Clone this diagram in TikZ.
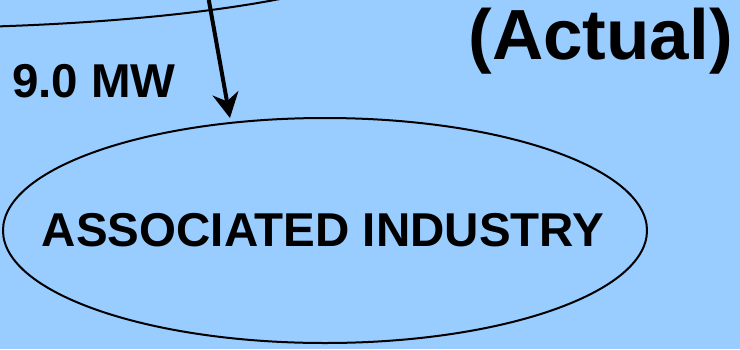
\documentclass[tikz,border=0pt]{standalone}
\usepackage{fontspec}
\setmainfont{Liberation Sans}
\usetikzlibrary{shapes.geometric,arrows.meta}
\definecolor{skyblue}{RGB}{153,204,255}
\begin{document}
\begin{tikzpicture}[x=1pt, y=-1pt,
                    main node/.style={ellipse,draw,line width=2pt,inner sep=0pt},
                    flow/.style={line width=4pt,-{Stealth[length=25pt,width=26pt,inset=8pt]}},
                    tag/.style={inner sep=0pt,font=\fontsize{47.5}{50}\selectfont\bfseries}]

		  \useasboundingbox (0,0) rectangle (740,349);
		  \fill[skyblue] (0,0) rectangle (740,349);
		  \clip (0,0) rectangle (740,349);

		  \node[main node, minimum width=1000pt, minimum height=166pt] (plant) at (-100,-55) {};
		  \node[main node, tag, minimum width=644pt, minimum height=225pt] (industry) at (325,230.5)
		    {\makebox[0pt]{\hspace{-4pt}ASSOCIATED INDUSTRY}};
		  \coordinate (feed) at (207,-10);

		  \node[tag, anchor=base west] (power) at (12,97) {9.0 MW};
		  \node[tag, anchor=base east, font=\fontsize{71}{74}\selectfont\bfseries] (actual) at (733,59) {(Actual)};

		  \path (feed) edge[flow, shorten >=4pt] (industry.131);
	\end{tikzpicture}
\end{document}
